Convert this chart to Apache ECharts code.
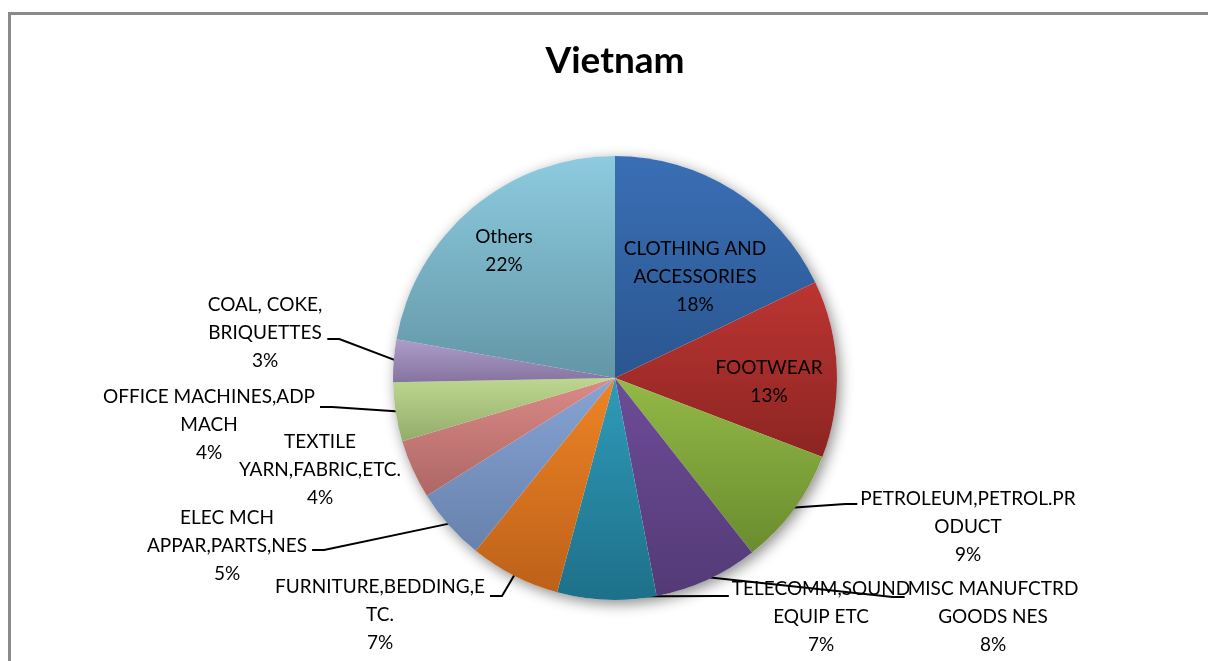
<!DOCTYPE html>
<html><head><meta charset="utf-8">
<script src="https://cdn.jsdelivr.net/npm/echarts@6/dist/echarts.min.js"></script>
<style>html,body{margin:0;padding:0;background:#fff}#c{width:1208px;height:661px}</style>
</head><body><div id="c"></div>
<script>
// ---- data ----
const categories = ['CLOTHING AND ACCESSORIES', 'FOOTWEAR', 'PETROLEUM,PETROL.PRODUCT', 'MISC MANUFCTRD GOODS NES',
  'TELECOMM,SOUND EQUIP ETC', 'FURNITURE,BEDDING,ETC.', 'ELEC MCH APPAR,PARTS,NES', 'TEXTILE YARN,FABRIC,ETC.',
  'OFFICE MACHINES,ADP MACH', 'COAL, COKE, BRIQUETTES', 'Others'];
const labelTexts = ['CLOTHING AND\nACCESSORIES', 'FOOTWEAR', 'PETROLEUM,PETROL.PR\nODUCT', 'MISC MANUFCTRD\nGOODS NES',
  'TELECOMM,SOUND\nEQUIP ETC', 'FURNITURE,BEDDING,E\nTC.', 'ELEC MCH\nAPPAR,PARTS,NES', 'TEXTILE\nYARN,FABRIC,ETC.',
  'OFFICE MACHINES,ADP\nMACH', 'COAL, COKE,\nBRIQUETTES', 'Others'];
const shares = [17.9, 12.9, 8.6, 7.6, 7.2, 6.6, 5.3, 4.3, 4.3, 3.1, 22.2];
const titleText = 'Vietnam';

// ---- styles ----
const topColors = ['#3a6fb5', '#bc3532', '#93b946', '#6e4c98', '#2f9bb9', '#ee8426', '#86a4d4', '#db8a87', '#bed78f', '#ae9ccb', '#8dcbe0'];
const bottomColors = ['#2a5690', '#8c2522', '#6a8c2f', '#533a76', '#1e7089', '#bd6119', '#6881ac', '#ad6765', '#93ac6b', '#85749f', '#6396a6'];
const CX = 615, CY = 378, R = 222;
// label placement (layout only): centre of text block, and side / y where the leader line attaches
const labelPlace = [
  {x: 695, y: 277, inside: true},
  {x: 769, y: 382, inside: true},
  {x: 968, y: 527, side: 'left', lineY: 504},
  {x: 993, y: 617, side: 'left', lineY: 597},
  {x: 821, y: 617, side: 'left', lineY: 596},
  {x: 380, y: 615, side: 'right', lineY: 596},
  {x: 227, y: 546, side: 'right', lineY: 550},
  {x: 320, y: 470},
  {x: 209, y: 425, side: 'right', lineY: 407},
  {x: 265, y: 333, side: 'right', lineY: 339},
  {x: 504, y: 251, inside: true}
];

const total = shares.reduce((a, b) => a + b, 0);
function midAngle(i) {
  let cum = 0;
  for (let k = 0; k < i; k++) cum += shares[k];
  return (cum + shares[i] / 2) / total * Math.PI * 2;
}

const data = categories.map((name, i) => {
  const pl = labelPlace[i];
  return {
    name: name,
    value: shares[i],
    itemStyle: {
      color: {type: 'linear', x: 0, y: 0, x2: 0, y2: 1,
        colorStops: [{offset: 0, color: topColors[i]}, {offset: 1, color: bottomColors[i]}]}
    },
    label: {position: pl.inside ? 'inside' : 'outside'},
    labelLine: {show: !!pl.side}
  };
});

const chart = echarts.init(document.getElementById('c'), null, {renderer: 'canvas'});
chart.setOption({
  animation: false,
  backgroundColor: '#ffffff',
  graphic: [
    {type: 'rect', shape: {x: 9.5, y: 13.5, width: 1400, height: 900},
      style: {fill: 'none', stroke: '#8a8a8a', lineWidth: 3}, z: 100},
    {type: 'text', x: 615, y: 61,
      style: {text: titleText, align: 'center', verticalAlign: 'middle',
        font: 'bold 37px Lato', fill: '#000'}}
  ],
  series: [
    {
      type: 'pie', silent: true, center: [CX, CY], radius: R, z: 1,
      label: {show: false}, labelLine: {show: false},
      itemStyle: {color: '#ffffff', shadowBlur: 14, shadowColor: 'rgba(0,0,0,0.45)', shadowOffsetX: 3, shadowOffsetY: 4},
      data: [{value: 1}]
    },
    {
      type: 'pie', center: [CX, CY], radius: R, z: 2,
      startAngle: 90, clockwise: true,
      avoidLabelOverlap: false,
      itemStyle: {borderWidth: 0},
      label: {
        show: true, color: '#000', fontFamily: 'Lato', fontSize: 19, lineHeight: 28,
        formatter: p => labelTexts[p.dataIndex] + '\n' + Math.round(p.percent) + '%'
      },
      labelLine: {show: true, length: 20, length2: 10, smooth: false, lineStyle: {color: '#000', width: 2}},
      labelLayout: function (params) {
        const i = params.dataIndex;
        const pl = labelPlace[i];
        const res = {x: pl.x, y: pl.y, align: 'center', verticalAlign: 'middle'};
        if (pl.side) {
          const w = params.labelRect.width;
          const a = midAngle(i);
          const sx = CX + R * 0.985 * Math.sin(a);
          const sy = CY - R * 0.985 * Math.cos(a);
          const ex = pl.side === 'right' ? pl.x + w / 2 + 5 : pl.x - w / 2 - 3;
          const bx = pl.side === 'right' ? ex + 12 : ex - 12;
          res.labelLinePoints = [[sx, sy], [bx, pl.lineY], [ex, pl.lineY]];
        }
        return res;
      },
      data: data
    }
  ]
});
</script>
</body></html>
